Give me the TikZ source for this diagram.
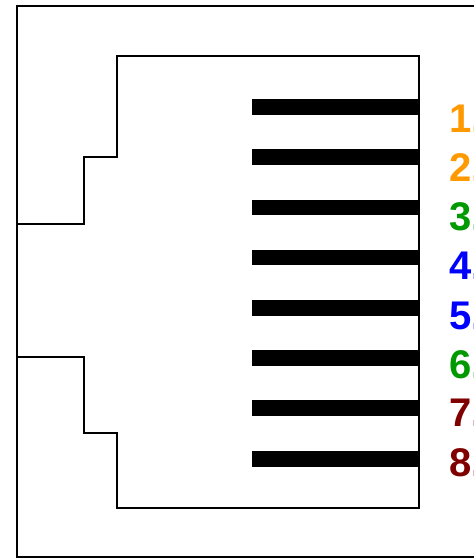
\documentclass[tikz,border=0pt]{standalone}
\usepackage{fontspec}
\setmainfont{Liberation Sans}
\definecolor{pinorange}{HTML}{FF9900}
\definecolor{pingreen}{HTML}{009900}
\definecolor{pinblue}{HTML}{0000FF}
\definecolor{pinred}{HTML}{800000}
\tikzset{
  wall/.style={draw=black,line width=2.4pt,line join=miter,line cap=butt},
  contact/.style={draw=black,line width=15.5pt,line cap=butt},
  pinlabel/.style={anchor=base west,inner sep=0pt,outer sep=0pt,font=\fontsize{40}{40}\selectfont\bfseries}
}
\begin{document}
\begin{tikzpicture}[x=1pt,y=-1pt]
\useasboundingbox (0,0) rectangle (474,558);
\clip (0,0) rectangle (474,558);
\fill[white] (0,0) rectangle (474,558);
% outer frame
\draw[wall] (480,6) -- (17,6) -- (17,557.5) -- (480,557.5);
% jack outline
\draw[wall] (17,224) -- (84,224) -- (84,157) -- (117,157) -- (117,56) -- (419,56) -- (419,508) -- (117,508) -- (117,433) -- (84,433) -- (84,357) -- (17,357);
% contacts
\foreach \yy in {107,157,207.3,257.5,308,358,408,459}{
  \draw[contact] (252,\yy) -- (419,\yy);
}
% labels
\node[pinlabel,text=pinorange] (p1) at (449.3,132) {1.};
\node[pinlabel,text=pinorange] (p2) at (449.3,181) {2.};
\node[pinlabel,text=pingreen] (p3) at (449.3,230) {3.};
\node[pinlabel,text=pinblue] (p4) at (449.3,279) {4.};
\node[pinlabel,text=pinblue] (p5) at (449.3,329) {5.};
\node[pinlabel,text=pingreen] (p6) at (449.3,378) {6.};
\node[pinlabel,text=pinred] (p7) at (449.3,426) {7.};
\node[pinlabel,text=pinred] (p8) at (449.3,476) {8.};
\end{tikzpicture}
\end{document}
